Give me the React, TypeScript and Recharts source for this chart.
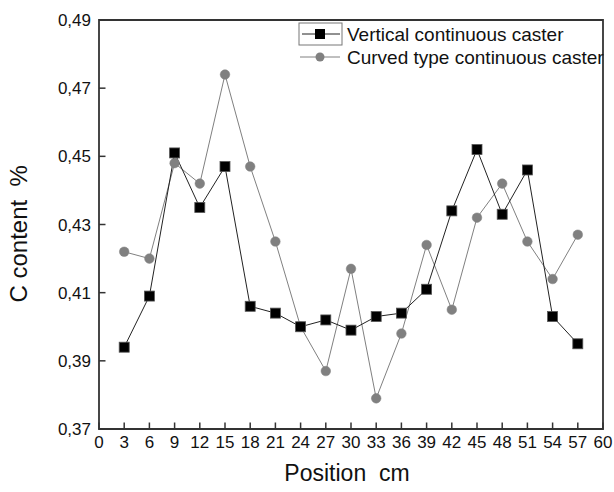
import React from 'react';
import { LineChart, Line, XAxis, YAxis, Legend, ReferenceArea } from 'recharts';

const positions = [3, 6, 9, 12, 15, 18, 21, 24, 27, 30, 33, 36, 39, 42, 45, 48, 51, 54, 57];
const verticalCaster = [0.394, 0.409, 0.451, 0.435, 0.447, 0.406, 0.404, 0.400, 0.402, 0.399, 0.403, 0.404, 0.411, 0.434, 0.452, 0.433, 0.446, 0.403, 0.395];
const curvedCaster = [0.422, 0.420, 0.448, 0.442, 0.474, 0.447, 0.425, 0.400, 0.387, 0.417, 0.379, 0.398, 0.424, 0.405, 0.432, 0.442, 0.425, 0.414, 0.427];

const xMajorTicks = [0, 3, 6, 9, 12, 15, 18, 21, 24, 27, 30, 33, 36, 39, 42, 45, 48, 51, 54, 57, 60];
const xMinorTicks = [1.5, 4.5, 7.5, 10.5, 13.5, 16.5, 19.5, 22.5, 25.5, 28.5, 31.5, 34.5, 37.5, 40.5, 43.5, 46.5, 49.5, 52.5, 55.5, 58.5];
const yMajorTicks = [0.37, 0.39, 0.41, 0.43, 0.45, 0.47, 0.49];
const yMinorTicks = [0.38, 0.40, 0.42, 0.44, 0.46, 0.48];

const seriesNames = ['Vertical continuous caster', 'Curved type continuous caster'];
const xTitle = 'Position\u00A0\u00A0cm';
const yTitle = 'C content\u00A0\u00A0%';

const data = positions.map((p, i) => ({ pos: p, vertical: verticalCaster[i], curved: curvedCaster[i] }));

const FONT = 'Arial, "Liberation Sans", Helvetica, sans-serif';
const AXIS = '#333';

const XTick = (props: any) => {
  const { x, y, payload } = props;
  return (
    <text x={x} y={y + 19} textAnchor="middle" fontSize={17} fontFamily={FONT} fill="#111">
      {String(payload.value)}
    </text>
  );
};

const YTick = (props: any) => {
  const { x, y, payload } = props;
  const v = payload.value as number;
  return (
    <text x={x - 8} y={y + 6} textAnchor="end" fontSize={17} fontFamily={FONT} fill="#111">
      {v.toFixed(2).replace('.', ',')}
    </text>
  );
};

const EmptyTick = () => <g />;

const SquareDot = (props: any) => {
  const { cx, cy, index } = props;
  if (cx == null || cy == null) return <g key={index} />;
  return <rect key={index} x={cx - 5} y={cy - 5} width={10} height={10} fill="#000" stroke="#555" strokeWidth={0.8} />;
};

const CircleDot = (props: any) => {
  const { cx, cy, index } = props;
  if (cx == null || cy == null) return <g key={index} />;
  return <circle key={index} cx={cx} cy={cy} r={4.8} fill="#808080" stroke="#808080" strokeWidth={0.5} />;
};

const renderLegend = () => (
  <svg width={320} height={50} style={{ display: 'block', overflow: 'visible' }}>
    <rect x={1} y={1} width={43} height={22} fill="none" stroke="#777" strokeWidth={1} />
    <line x1={4} x2={42} y1={12} y2={12} stroke="#222" strokeWidth={1} />
    <rect x={17} y={7} width={10} height={10} fill="#000" />
    <text x={49} y={18.5} fontSize={19} fontFamily={FONT} fill="#111">{seriesNames[0]}</text>
    <line x1={2} x2={42} y1={35} y2={35} stroke="#808080" strokeWidth={1} />
    <circle cx={22} cy={35} r={4.5} fill="#808080" />
    <text x={49} y={42} fontSize={19} fontFamily={FONT} fill="#111">{seriesNames[1]}</text>
  </svg>
);

export default function App() {
  return (
    <div style={{ position: 'absolute', left: 0, top: 0, width: 614, height: 492, background: '#fff' }}>
      <LineChart width={614} height={492} data={data} margin={{ top: 20, right: 11, left: 39, bottom: 3 }}>
        <XAxis
          xAxisId="minor"
          type="number"
          domain={[0, 60]}
          ticks={xMinorTicks}
          interval={0}
          tickSize={-3.5}
          tickLine={{ stroke: AXIS, strokeWidth: 1.5 }}
          axisLine={false}
          tick={<EmptyTick />}
          height={0}
        />
        <YAxis
          yAxisId="minor"
          type="number"
          domain={[0.37, 0.49]}
          ticks={yMinorTicks}
          interval={0}
          tickSize={-3.5}
          tickLine={{ stroke: AXIS, strokeWidth: 1.5 }}
          axisLine={false}
          tick={<EmptyTick />}
          width={0}
        />
        <XAxis
          dataKey="pos"
          type="number"
          domain={[0, 60]}
          ticks={xMajorTicks}
          interval={0}
          tickSize={-6.5}
          tickMargin={6.5}
          tickLine={{ stroke: AXIS, strokeWidth: 1.5 }}
          axisLine={false}
          tick={<XTick />}
          height={60}
          label={{ value: xTitle, position: 'insideBottom', offset: 8, dx: -4, fontSize: 23, fontFamily: FONT, fill: '#111' }}
        />
        <YAxis
          type="number"
          domain={[0.37, 0.49]}
          ticks={yMajorTicks}
          interval={0}
          tickSize={-6.5}
          tickMargin={6.5}
          tickLine={{ stroke: AXIS, strokeWidth: 1.5 }}
          axisLine={false}
          tick={<YTick />}
          width={60}
          allowDataOverflow
          label={{ value: yTitle, angle: -90, position: 'insideLeft', offset: -21, dy: 78, fontSize: 24, fontFamily: FONT, fill: '#111' }}
        />
        <ReferenceArea x1={0} x2={60} y1={0.37} y2={0.49} fill="none" fillOpacity={0} stroke={AXIS} strokeWidth={1.8} ifOverflow="visible" />
        <Line
          type="linear"
          dataKey="curved"
          name={seriesNames[1]}
          stroke="#808080"
          strokeWidth={1}
          dot={<CircleDot />}
          activeDot={false}
          isAnimationActive={false}
        />
        <Line
          type="linear"
          dataKey="vertical"
          name={seriesNames[0]}
          stroke="#222"
          strokeWidth={1}
          dot={<SquareDot />}
          activeDot={false}
          isAnimationActive={false}
        />
        <Legend
          layout="vertical"
          align="center"
          verticalAlign="middle"
          content={renderLegend}
          wrapperStyle={{ position: 'absolute', left: 298, top: 22, width: 320, height: 50 }}
        />
      </LineChart>
    </div>
  );
}
